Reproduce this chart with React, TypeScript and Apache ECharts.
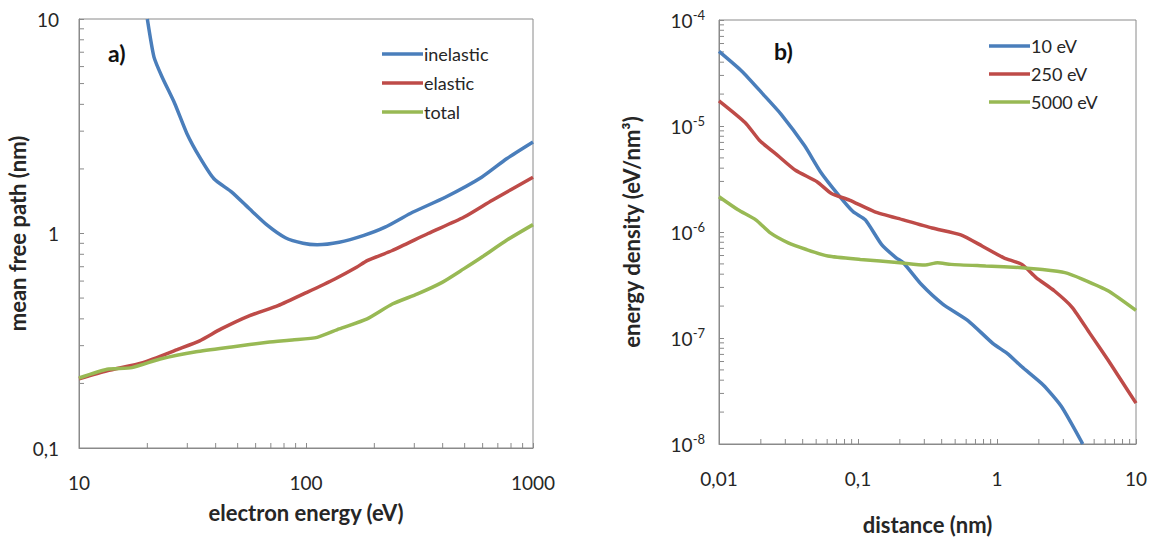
import React, { useEffect, useRef } from "react";
import * as echarts from "echarts";

// ---- Panel a) mean free path vs electron energy ----
const energyInelastic = [20, 21.4, 23.2, 26.4, 29.9, 34, 39.3, 47.1, 56.5, 67.7, 81.1, 97, 112, 140, 180, 223, 288, 413, 594, 765, 1000];
const mfpInelastic = [10, 6.64, 5.38, 4.04, 2.92, 2.27, 1.8, 1.56, 1.3, 1.09, 0.955, 0.9, 0.886, 0.91, 0.98, 1.07, 1.24, 1.48, 1.83, 2.23, 2.67];

const energyElastic = [10, 13.3, 19.1, 27.4, 34, 42.3, 56.5, 75.3, 101, 134, 167, 186, 240, 345, 495, 662, 1000];
const mfpElastic = [0.21, 0.229, 0.25, 0.289, 0.316, 0.359, 0.414, 0.461, 0.532, 0.614, 0.696, 0.748, 0.833, 1.0, 1.19, 1.43, 1.83];

const energyTotal = [10, 13.3, 17.1, 22.8, 32.8, 47.1, 67.7, 87, 112, 140, 186, 240, 310, 398, 495, 594, 765, 1000];
const mfpTotal = [0.212, 0.233, 0.237, 0.26, 0.281, 0.296, 0.311, 0.319, 0.328, 0.359, 0.4, 0.469, 0.523, 0.592, 0.684, 0.775, 0.93, 1.1];

const legendA = ["inelastic", "elastic", "total"];

// ---- Panel b) energy density vs distance ----
const distance10 = [0.01, 0.0146, 0.0208, 0.028, 0.0412, 0.0538, 0.0725, 0.092, 0.113, 0.148, 0.188, 0.212, 0.285, 0.407, 0.618, 0.937, 1.19, 1.51, 2.15, 2.9, 4.14];
const density10 = [5.06e-5, 3.29e-5, 1.99e-5, 1.29e-5, 6.54e-6, 3.69e-6, 2.23e-6, 1.56e-6, 1.3e-6, 7.6e-7, 5.71e-7, 5.13e-7, 3.21e-7, 2.09e-7, 1.46e-7, 8.85e-8, 7.13e-8, 5.35e-8, 3.61e-8, 2.27e-8, 1.0e-8];

const distance250 = [0.01, 0.0154, 0.0196, 0.0264, 0.0355, 0.0507, 0.0644, 0.0867, 0.131, 0.212, 0.341, 0.549, 0.785, 1.12, 1.51, 1.91, 2.58, 3.47, 4.67, 6.29, 7.51, 10];
const density250 = [1.73e-5, 1.08e-5, 7.3e-6, 5.28e-6, 3.82e-6, 2.98e-6, 2.31e-6, 2.0e-6, 1.56e-6, 1.3e-6, 1.09e-6, 9.4e-7, 7.35e-7, 5.71e-7, 4.95e-7, 3.72e-7, 2.79e-7, 1.95e-7, 1.1e-7, 6.19e-8, 4.33e-8, 2.43e-8];

const distance5000 = [0.01, 0.0137, 0.0184, 0.0234, 0.0315, 0.0425, 0.0607, 0.104, 0.2, 0.303, 0.373, 0.467, 0.83, 1.51, 2.03, 3.08, 4.14, 6.29, 10];
const density5000 = [2.15e-6, 1.62e-6, 1.3e-6, 9.8e-7, 7.9e-7, 6.84e-7, 5.93e-7, 5.51e-7, 5.13e-7, 4.88e-7, 5.13e-7, 4.95e-7, 4.78e-7, 4.61e-7, 4.45e-7, 4.14e-7, 3.58e-7, 2.79e-7, 1.82e-7];

const legendB = ["10 eV", "250 eV", "5000 eV"];

// axis extents (decades)
const xDecadesA = [1, 3]; // 10 .. 1000
const yDecadesA = [-1, 1]; // 0.1 .. 10
const xDecadesB = [-2, 1]; // 0.01 .. 10
const yDecadesB = [-8, -4]; // 1e-8 .. 1e-4
const minorMultipliers = [2, 3, 4, 5, 6, 7, 8, 9];

const BLUE = "#4A7EBB";
const RED = "#BE4B48";
const GREEN = "#98B954";
const AXIS = "#8a8a8a";
const TEXT = "#262626";
const FONT = "Lato, 'Open Sans', sans-serif";

function pairs(xs: number[], ys: number[]) {
  return xs.map((x, i) => [x, ys[i]]);
}

function minorTicks(dec: number[], fixed: number, axis: "x" | "y") {
  const out: number[][] = [];
  for (let e = dec[0]; e < dec[1]; e++) {
    for (const m of minorMultipliers) {
      const v = Number((m * Math.pow(10, e)).toPrecision(6));
      out.push(axis === "x" ? [v, fixed, 0] : [fixed, v, 1]);
    }
  }
  return out;
}

const tickRender = (_params: any, api: any) => {
  const p = api.coord([api.value(0), api.value(1)]);
  const dir = api.value(2);
  const len = 5;
  return {
    type: "line",
    silent: true,
    shape:
      dir === 0
        ? { x1: p[0], y1: p[1], x2: p[0], y2: p[1] - len }
        : { x1: p[0], y1: p[1], x2: p[0] + len, y2: p[1] },
    style: { stroke: AXIS, lineWidth: 1 },
  };
};

const commaFmt = (v: number) => String(Number(v.toPrecision(4))).replace(".", ",");
const powFmt = (v: number) => `10{sup|${Math.round(Math.log10(v))}}`;

function lineSeries(name: string, data: number[][], color: string, idx: number) {
  return {
    type: "line",
    name,
    data,
    xAxisIndex: idx,
    yAxisIndex: idx,
    showSymbol: false,
    symbol: "none",
    smooth: 0.2,
    color,
    lineStyle: { color, width: 3.5 },
    z: 5,
  };
}

export default function App() {
  const ref = useRef<HTMLDivElement>(null);
  useEffect(() => {
    if (!ref.current) return;
    const chart = echarts.init(ref.current, undefined, { renderer: "svg" });
    const axisCommon = {
      type: "log",
      logBase: 10,
      axisLine: { show: true, lineStyle: { color: AXIS, width: 1 } },
      axisTick: { show: true, inside: true, length: 5, lineStyle: { color: AXIS } },
      splitLine: { show: false },
      nameTextStyle: { fontFamily: FONT, fontWeight: "bold", fontSize: 22, color: TEXT },
    };
    const labelCommon = { fontFamily: FONT, fontSize: 19, color: TEXT };
    chart.setOption({
      animation: false,
      backgroundColor: "#ffffff",
      textStyle: { fontFamily: FONT },
      title: [
        { text: "a)", left: 103, top: 36, textStyle: { fontFamily: FONT, fontWeight: "bold", fontSize: 23, color: "#111" } },
        { text: "b)", left: 769, top: 34, textStyle: { fontFamily: FONT, fontWeight: "bold", fontSize: 23, color: "#111" } },
      ],
      legend: [
        {
          data: legendA,
          orient: "vertical",
          left: 377,
          top: 40,
          itemWidth: 41,
          itemHeight: 3.5,
          itemGap: 11,
          icon: "rect",
          textStyle: { fontFamily: FONT, fontSize: 18, color: TEXT, padding: [0, 0, 0, -4] },
        },
        {
          data: legendB,
          orient: "vertical",
          left: 984,
          top: 32,
          itemWidth: 41,
          itemHeight: 3.5,
          itemGap: 10,
          icon: "rect",
          textStyle: { fontFamily: FONT, fontSize: 18, color: TEXT, padding: [0, 0, 0, -4] },
        },
      ],
      grid: [
        { left: 79, top: 19, width: 454, height: 429, show: true, borderColor: AXIS, borderWidth: 1 },
        { left: 719, top: 20, width: 417, height: 428, show: true, borderColor: AXIS, borderWidth: 1 },
      ],
      xAxis: [
        {
          ...axisCommon,
          gridIndex: 0,
          min: 10,
          max: 1000,
          name: "electron energy (eV)",
          nameLocation: "middle",
          nameGap: 53,
          axisLabel: { ...labelCommon, margin: 25, formatter: commaFmt },
        },
        {
          ...axisCommon,
          gridIndex: 1,
          min: 0.01,
          max: 10,
          name: "distance (nm)",
          nameLocation: "middle",
          nameGap: 69,
          axisLabel: { ...labelCommon, margin: 25, formatter: commaFmt },
        },
      ],
      yAxis: [
        {
          ...axisCommon,
          gridIndex: 0,
          min: 0.1,
          max: 10,
          name: "mean free path (nm)",
          nameLocation: "middle",
          nameGap: 45,
          axisLabel: { ...labelCommon, margin: 20, formatter: commaFmt },
        },
        {
          ...axisCommon,
          gridIndex: 1,
          min: 1e-8,
          max: 1e-4,
          name: "energy density (eV/nm³)",
          nameLocation: "middle",
          nameGap: 77,
          axisLabel: {
            ...labelCommon,
            margin: 14,
            formatter: powFmt,
            rich: {
              sup: { fontFamily: FONT, fontSize: 13, color: TEXT, verticalAlign: "top", padding: [0, 0, 10, 0] },
            },
          },
        },
      ],
      series: [
        {
          type: "custom",
          name: "ticksA",
          xAxisIndex: 0,
          yAxisIndex: 0,
          renderItem: tickRender,
          silent: true,
          z: 1,
          data: [...minorTicks(xDecadesA, 0.1, "x"), ...minorTicks(yDecadesA, 10, "y")],
        },
        {
          type: "custom",
          name: "ticksB",
          xAxisIndex: 1,
          yAxisIndex: 1,
          renderItem: tickRender,
          silent: true,
          z: 1,
          data: [...minorTicks(xDecadesB, 1e-8, "x"), ...minorTicks(yDecadesB, 0.01, "y")],
        },
        lineSeries(legendA[0], pairs(energyInelastic, mfpInelastic), BLUE, 0),
        lineSeries(legendA[1], pairs(energyElastic, mfpElastic), RED, 0),
        lineSeries(legendA[2], pairs(energyTotal, mfpTotal), GREEN, 0),
        lineSeries(legendB[0], pairs(distance10, density10), BLUE, 1),
        lineSeries(legendB[1], pairs(distance250, density250), RED, 1),
        lineSeries(legendB[2], pairs(distance5000, density5000), GREEN, 1),
      ],
    });
    return () => chart.dispose();
  }, []);
  return (
    <div
      ref={ref}
      style={{ position: "fixed", left: 0, top: 0, width: 1157, height: 540, background: "#fff" }}
    />
  );
}
